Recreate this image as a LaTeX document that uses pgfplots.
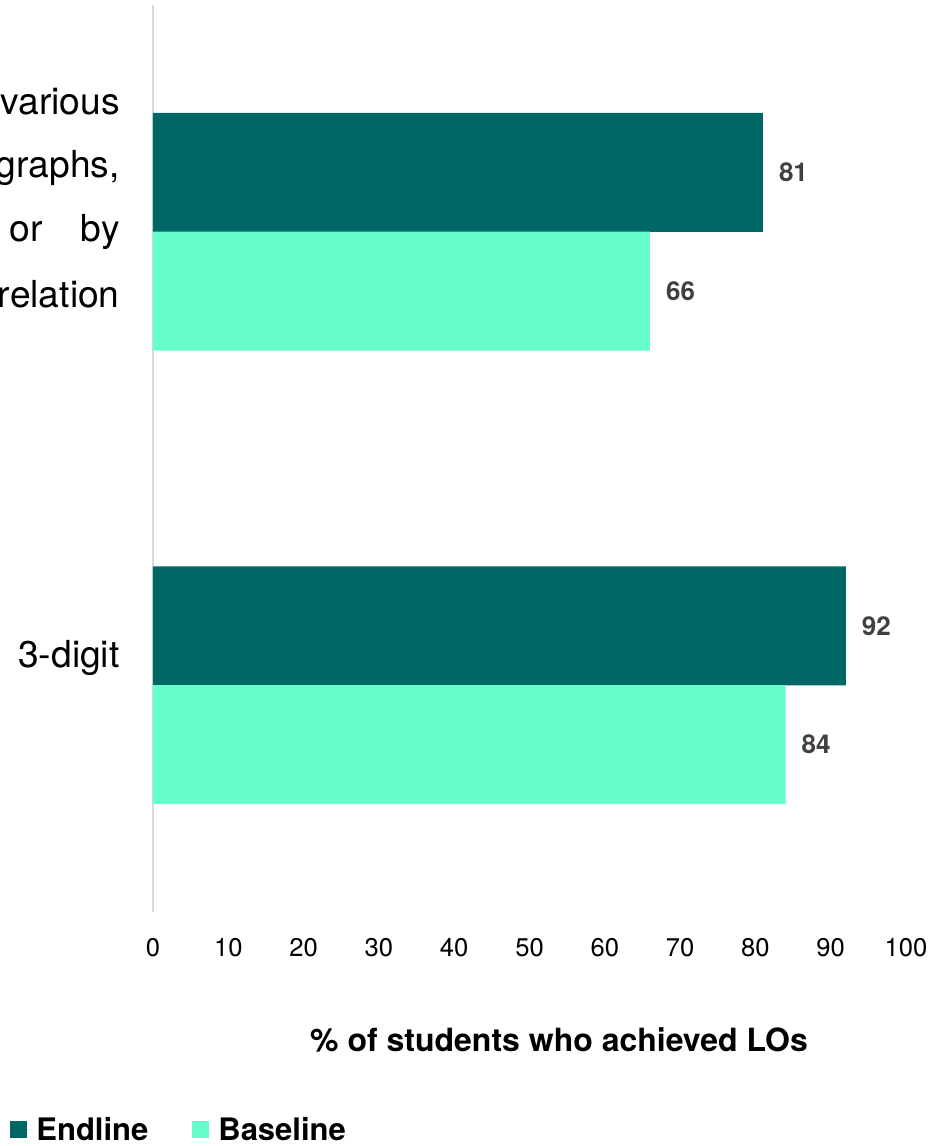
\documentclass[border=0pt]{standalone}
\usepackage{fontspec}
\setmainfont{TeX Gyre Heros}
\usepackage{pgfplots}
\pgfplotsset{compat=1.18}
\definecolor{endc}{RGB}{0,102,102}
\definecolor{basec}{RGB}{102,255,204}
\definecolor{lblgray}{RGB}{64,64,64}
\definecolor{axgray}{RGB}{217,217,217}
\begin{document}
\begin{tikzpicture}
\begin{axis}[
  at={(0,0)}, anchor=south west, scale only axis,
  width=376.5pt, height=453.5pt,
  xmin=0, xmax=100, ymin=-0.5, ymax=1.5, y dir=reverse,
  xtick={0,10,...,100}, ytick=\empty,
  major tick length=0pt,
  axis x line*=bottom, axis y line*=left,
  x axis line style={draw=none},
  y axis line style={draw=axgray, line width=1pt, -},
  xticklabel style={anchor=center, yshift=-18pt, font=\fontsize{12.8}{15}\selectfont},
  /pgf/number format/assume math mode=true,
  xbar, bar width=59.5pt, bar shift=0pt,
  point meta=x,
  nodes near coords,
  every node near coord/.append style={font=\fontsize{13}{15}\selectfont\bfseries, color=lblgray, xshift=4.5pt},
  clip=false,
  legend columns=2,
  legend style={at={(-0.1899,-0.2403)}, anchor=west, draw=none, fill=none, inner sep=0pt,
    font=\fontsize{15.5}{18}\selectfont\bfseries,
    /tikz/every even column/.append style={column sep=20pt}},
  legend image code/.code={\fill[#1] (0pt,-4.25pt) rectangle (8.5pt,4.25pt);\path (0pt,0pt) -- (11pt,0pt);},
]
\addplot[fill=endc, draw=none] coordinates {(81,-0.1308) (92,0.8692)};
\addlegendentry{Endline}
\addplot[fill=basec, draw=none] coordinates {(66,0.1308) (84,1.1308)};
\addlegendentry{Baseline}
\end{axis}
\begin{scope}[every node/.style={anchor=mid east, inner sep=0pt, font=\fontsize{18.6}{21}\selectfont}]
\node at (-16.5pt,401.5pt) {various};
\node at (-16.5pt,370pt) {graphs,};
\node at (-16.5pt,338pt) {or\hspace{19pt}by};
\node at (-16.5pt,305pt) {relation};
\node at (-16.5pt,125pt) {3-digit};
\end{scope}
\node[font=\fontsize{16}{19}\selectfont\bfseries] at (203pt,-64pt) {\% of students who achieved LOs};
\pgfresetboundingbox
\path[use as bounding box] (-76.5pt,-117pt) rectangle (389.5pt,456pt);
\end{tikzpicture}
\end{document}
